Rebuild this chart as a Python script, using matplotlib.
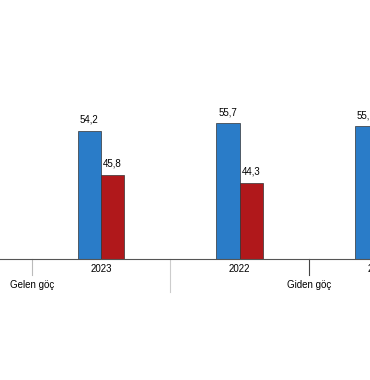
import matplotlib
matplotlib.use("Agg")
import matplotlib.pyplot as plt

years = ["2023", "2022", "2021"]
gelen = [54.2, 55.7, 55.1]
giden = [45.8, 44.3, 44.9]
gelen_labels = ["54,2", "55,7", "55,1"]
giden_labels = ["45,8", "44,3", "44,9"]
group_labels = ["Gelen göç", "Giden göç"]

plt.rcParams['font.family'] = ['Liberation Sans', 'DejaVu Sans']

fig = plt.figure(figsize=(3.7, 3.8), dpi=100)
ax = fig.add_axes([0, 1 - 259 / 380, 1, 259 / 380])
ax.set_xlim(-0.729, 1.942)
ax.set_ylim(29.8, 29.8 + 259 / 5.24)

x = list(range(len(years)))
w = 0.168
blue = "#2a7cc8"
red = "#b0181b"
ax.bar([i - w / 2 for i in x], gelen, width=w, bottom=0, color=blue,
       edgecolor="#333333", linewidth=0.5)
ax.bar([i + w / 2 for i in x], giden, width=w, bottom=0, color=red,
       edgecolor="#333333", linewidth=0.5)

for i in x:
    ax.annotate(gelen_labels[i], (i - w / 2, gelen[i]), xytext=(0, 4.5),
                textcoords="offset points", ha="center", va="bottom",
                fontsize=7, color="#000000", annotation_clip=False)
    ax.annotate(giden_labels[i], (i + w / 2, giden[i]), xytext=(0, 4.5),
                textcoords="offset points", ha="center", va="bottom",
                fontsize=7, color="#000000", annotation_clip=False)

for s in ["top", "right", "left"]:
    ax.spines[s].set_visible(False)
ax.spines["bottom"].set_color("#555555")
ax.spines["bottom"].set_linewidth(0.8)
ax.set_yticks([])
ax.set_xticks([])

trans = ax.get_xaxis_transform()
for i, yr in enumerate(years):
    ax.text(i, -0.04, yr, transform=trans, ha="center", va="center",
            fontsize=7, color="#000000", clip_on=False)

# separators
seps = [(-0.5, "#bbbbbb", 16), (0.5, "#cccccc", 33), (1.5, "#444444", 16)]
for xs, c, L in seps:
    ax.plot([xs, xs], [0, -L / 259], transform=trans, color=c, lw=0.8,
            clip_on=False)

ax.text(-0.5, -26 / 259, group_labels[0], transform=trans, ha="center",
        va="center", fontsize=7, color="#000000", clip_on=False)
ax.text(1.5, -26 / 259, group_labels[1], transform=trans, ha="center",
        va="center", fontsize=7, color="#000000", clip_on=False)

fig.savefig("out.png", dpi=100, facecolor="white")
